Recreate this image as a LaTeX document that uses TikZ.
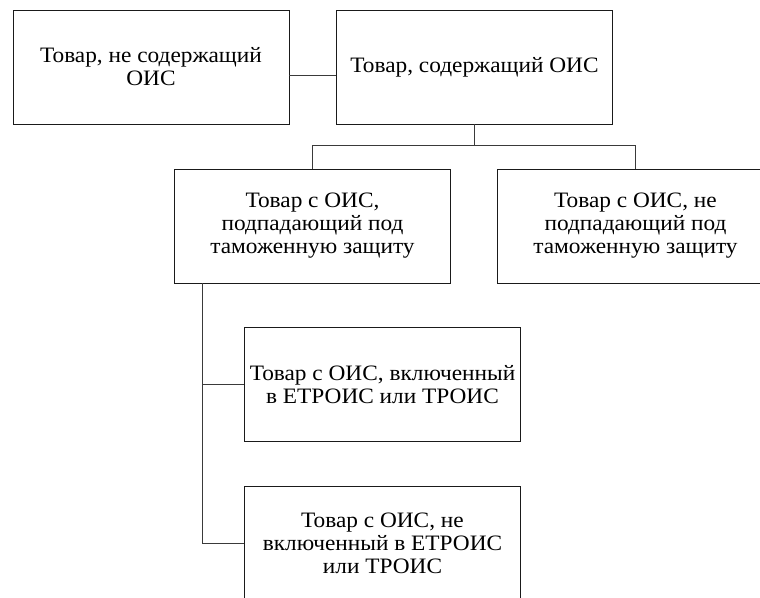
\documentclass[tikz,border=0pt]{standalone}
\usepackage{fontspec}
\setmainfont[FakeStretch=1.06]{Liberation Serif}
\usepackage{tikz}
\usepackage{xcolor}
\usetikzlibrary{positioning, calc}
\definecolor{cFrame}{HTML}{1A1A1A}
\definecolor{cWire} {HTML}{3A3A3A}

\begin{document}
\begin{tikzpicture}[x=1pt, y=-1pt,
    goods/.style={draw=cFrame, line width=0.9pt, fill=white, align=center,
                  minimum width=276pt, minimum height=114pt, inner sep=0pt,
                  font=\fontsize{22}{23}\selectfont},
    wire/.style={draw=cWire, line width=0.9pt}]
  \clip (0,0) rectangle (760,597);
  \fill[white] (0,0) rectangle (760,597);
  % top row
  \node[goods] (free) at (151, 67) {Товар, не содержащий\\ОИС};
  \node[goods] (ois)  at (474.5, 67) {Товар, содержащий ОИС};
  \draw[wire] ([yshift=-8pt]free.east) -- ([yshift=-8pt]ois.west);
  % customs protection
  \node[goods] (prot)   at (312.5, 226) {Товар с ОИС,\\подпадающий под\\таможенную защиту};
  \node[goods] (noprot) at (635.5, 226) {Товар с ОИС, не\\подпадающий под\\таможенную защиту};
  \draw[wire] (ois.south) -- ++(0,21) coordinate (bus);
  \draw[wire] (prot.north) |- (bus) -| (noprot.north);
  % registers
  \node[goods] (reg)   at (382.5, 384.5) {Товар с ОИС, включенный\\в ЕТРОИС или ТРОИС};
  \node[goods] (noreg) at (382.5, 543.5) {Товар с ОИС, не\\включенный в ЕТРОИС\\или ТРОИС};
  \coordinate (trunk) at ([xshift=28pt]prot.south west);
  \draw[wire] (trunk) |- (reg.west);
  \draw[wire] (trunk) |- (noreg.west);
\end{tikzpicture}
\end{document}
